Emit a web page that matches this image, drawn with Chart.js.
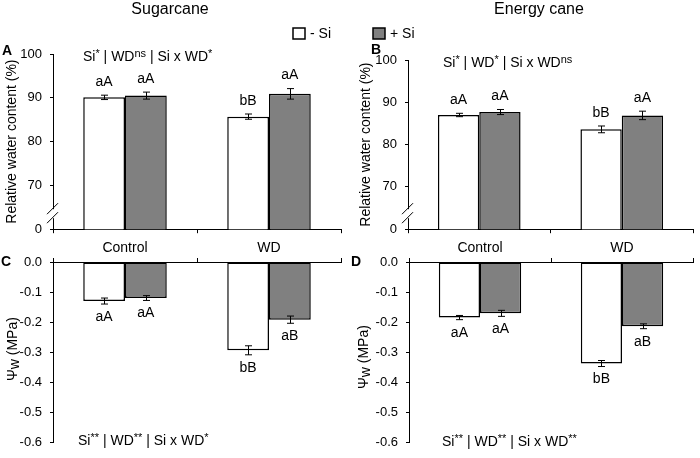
<!DOCTYPE html>
<html>
<head>
<meta charset="utf-8">
<script src="https://cdn.jsdelivr.net/npm/chart.js@4.4.1/dist/chart.umd.min.js"></script>
<style>
html,body{margin:0;padding:0;background:#fff;}
#wrap{position:relative;width:700px;height:458px;overflow:hidden;background:#fff;}
canvas{position:absolute;}
</style>
</head>
<body>
<div id="wrap">
<canvas id="cA" style="left:0;top:0" width="350" height="245"></canvas>
<canvas id="cB" style="left:350px;top:0" width="350" height="245"></canvas>
<canvas id="cC" style="left:0;top:240px" width="350" height="218"></canvas>
<canvas id="cD" style="left:350px;top:240px" width="350" height="218"></canvas>
</div>
<script>
// ---------------- data ----------------
const categories = ['Control', 'WD'];
const seriesNames = ['- Si', '+ Si'];
const panelTitles = ['Sugarcane', 'Energy cane'];

// Relative water content (%)
const rwcSugarMinusSi  = [90.1, 85.7];
const rwcSugarPlusSi   = [90.5, 90.9];
const rwcSugarMinusErr = [0.5, 0.6];
const rwcSugarPlusErr  = [0.8, 1.2];
const rwcEnergyMinusSi  = [87.0, 83.6];
const rwcEnergyPlusSi   = [87.7, 86.9];
const rwcEnergyMinusErr = [0.4, 0.8];
const rwcEnergyPlusErr  = [0.6, 1.0];

// Leaf water potential (MPa)
const psiSugarMinusSi  = [-0.13, -0.294];
const psiSugarPlusSi   = [-0.12, -0.192];
const psiSugarMinusErr = [0.01, 0.015];
const psiSugarPlusErr  = [0.008, 0.012];
const psiEnergyMinusSi  = [-0.185, -0.338];
const psiEnergyPlusSi   = [-0.171, -0.214];
const psiEnergyMinusErr = [0.007, 0.01];
const psiEnergyPlusErr  = [0.01, 0.008];

// mean-separation letters
const lettersRwcSugarMinus  = ['aA', 'bB'];
const lettersRwcSugarPlus   = ['aA', 'aA'];
const lettersRwcEnergyMinus = ['aA', 'bB'];
const lettersRwcEnergyPlus  = ['aA', 'aA'];
const lettersPsiSugarMinus  = ['aA', 'bB'];
const lettersPsiSugarPlus   = ['aA', 'aB'];
const lettersPsiEnergyMinus = ['aA', 'bB'];
const lettersPsiEnergyPlus  = ['aA', 'aB'];

// ANOVA notes: [text, superscript?]
const anovaA = [['Si',0],['*',1],[' | WD',0],['ns',1],[' | Si x WD',0],['*',1]];
const anovaB = [['Si',0],['*',1],[' | WD',0],['*',1],[' | Si x WD',0],['ns',1]];
const anovaC = [['Si',0],['**',1],[' | WD',0],['**',1],[' | Si x WD',0],['*',1]];
const anovaD = [['Si',0],['**',1],[' | WD',0],['**',1],[' | Si x WD',0],['**',1]];

// tick values / labels
const rwcTicks = [60, 70, 80, 90, 100];
const rwcTickLabels = ['0', '70', '80', '90', '100'];
const psiTicks = [0, -0.1, -0.2, -0.3, -0.4, -0.5, -0.6];
const psiTickLabels = ['0.0', '-0.1', '-0.2', '-0.3', '-0.4', '-0.5', '-0.6'];

const rwcTitle = 'Relative water content (%)';
const psiTitle = [['Ψ',0],['w',2],[' (MPa)',0]];

// ---------------- styling ----------------
const FONT = "'Liberation Sans', Arial, Helvetica, sans-serif";
Chart.defaults.font.family = FONT;
Chart.defaults.color = '#000';
const WHITE = '#ffffff';
const GRAY = '#808080';

function font(size, bold) { return (bold ? 'bold ' : '') + size + 'px ' + FONT; }

function supSize(size) { return Math.round(size * 0.75); }

function drawRich(ctx, parts, x, y, size) {
  // y is the vertical middle of the main text
  let cx = x;
  ctx.textAlign = 'left';
  ctx.textBaseline = 'alphabetic';
  const base = y + size * 0.36;
  parts.forEach(([t, s]) => {
    let fs = size, dy = 0;
    if (s === 1) { fs = supSize(size); dy = -size * 0.3; }
    if (s === 2) { fs = size; dy = size * 0.15; }
    ctx.font = font(fs);
    ctx.fillText(t, cx, base + dy);
    cx += ctx.measureText(t).width;
  });
  return cx - x;
}
function richWidth(ctx, parts, size) {
  let w = 0;
  parts.forEach(([t, s]) => {
    ctx.font = font(s === 1 ? supSize(size) : size);
    w += ctx.measureText(t).width;
  });
  return w;
}

const extras = {
  id: 'extras',
  afterDatasetsDraw(chart, args, o) {
    const ctx = chart.ctx, y = chart.scales.y, ca = chart.chartArea;
    ctx.save();
    // error bars and letters
    chart.data.datasets.forEach((ds, di) => {
      const meta = chart.getDatasetMeta(di);
      meta.data.forEach((bar, i) => {
        const v = ds.data[i], e = ds.errors[i];
        const yt = y.getPixelForValue(v + e), yb = y.getPixelForValue(v - e);
        const x = Math.round(bar.x) + 0.5;
        ctx.strokeStyle = '#000'; ctx.lineWidth = 1;
        ctx.beginPath();
        ctx.moveTo(x, yt); ctx.lineTo(x, yb);
        ctx.moveTo(x - 3.5, yt); ctx.lineTo(x + 3.5, yt);
        ctx.moveTo(x - 3.5, yb); ctx.lineTo(x + 3.5, yb);
        ctx.stroke();
        ctx.fillStyle = '#000';
        ctx.font = font(14);
        ctx.textAlign = 'center'; ctx.textBaseline = 'middle';
        const ly = v >= 0 ? yt - 13 : yb + 13;
        ctx.fillText(ds.letters[i], bar.x, ly);
      });
    });
    // ANOVA note
    ctx.fillStyle = '#000';
    drawRich(ctx, o.anova, ca.left + o.anovaDx, o.anovaY, 14);
    // panel letter
    ctx.font = font(14, true); ctx.textAlign = 'left'; ctx.textBaseline = 'middle';
    ctx.fillText(o.panel, o.panelX, o.panelY);
    // title
    if (o.title) {
      ctx.font = font(16); ctx.textAlign = 'center'; ctx.textBaseline = 'alphabetic';
      ctx.fillText(o.title, o.titleX, 14);
    }
    // legend item
    if (o.legend !== undefined) {
      const ds = chart.data.datasets[o.legend];
      ctx.fillStyle = ds.backgroundColor;
      ctx.fillRect(o.legendX, 28, 12, 11);
      ctx.strokeStyle = '#000'; ctx.lineWidth = 1.5;
      ctx.strokeRect(o.legendX, 28, 12, 11);
      ctx.fillStyle = '#000'; ctx.font = font(14); ctx.textAlign = 'left'; ctx.textBaseline = 'middle';
      ctx.fillText(ds.label, o.legendX + 17, 34);
    }
    // axis break
    if (o.brk) {
      const L = Math.round(ca.left), B = ca.bottom;
      ctx.fillStyle = '#fff';
      ctx.fillRect(L - 2, B - 20, 4, 9);
      ctx.strokeStyle = '#000'; ctx.lineWidth = 1;
      ctx.beginPath();
      ctx.moveTo(L - 6, B - 15); ctx.lineTo(L + 5, B - 26);
      ctx.moveTo(L - 6, B - 6); ctx.lineTo(L + 5, B - 17);
      ctx.stroke();
    }
    // rich y title for psi panels
    if (o.yTitle) {
      ctx.save();
      ctx.translate(o.yTitleX, o.yTitleY);
      ctx.rotate(-Math.PI / 2);
      ctx.fillStyle = '#000';
      const w = richWidth(ctx, o.yTitle, 14);
      drawRich(ctx, o.yTitle, -w / 2, 0, 14);
      ctx.restore();
    }
    ctx.restore();
  }
};

function makeDatasets(minus, minusErr, minusLet, plus, plusErr, plusLet) {
  return [
    { label: seriesNames[0], data: minus, errors: minusErr, letters: minusLet,
      backgroundColor: WHITE, borderColor: '#000', borderWidth: 1.5, borderSkipped: false },
    { label: seriesNames[1], data: plus, errors: plusErr, letters: plusLet,
      backgroundColor: GRAY, borderColor: '#000', borderWidth: 1.5, borderSkipped: false }
  ];
}

function topChart(id, datasets, yWidth, padTop, padRight, titleY, extraOpts) {
  return new Chart(document.getElementById(id), {
    type: 'bar',
    data: { labels: categories, datasets },
    options: {
      responsive: false, animation: false,
      layout: { padding: { top: padTop, right: padRight, left: 0, bottom: 0 } },
      categoryPercentage: 0.58, barPercentage: 1.0,
      plugins: { legend: { display: false }, tooltip: { enabled: false }, extras: extraOpts },
      scales: {
        x: {
          position: 'bottom', offset: true,
          grid: { display: true, offset: true, drawOnChartArea: false, drawTicks: true, tickLength: 4, color: '#000' },
          border: { display: true, color: '#000', width: 1 },
          ticks: { display: false },
          afterFit: s => { s.height = 15; }
        },
        y: {
          min: 60, max: 100,
          afterBuildTicks: s => { s.ticks = rwcTicks.map(v => ({ value: v })); },
          ticks: { callback: v => rwcTickLabels[rwcTicks.indexOf(v)], font: { size: 13 }, color: '#000', padding: 8 },
          grid: { display: true, drawOnChartArea: false, drawTicks: true, tickLength: 3, color: '#000' },
          border: { display: true, color: '#000', width: 1 },
          title: { display: true, text: rwcTitle, font: { size: 14 }, color: '#000', padding: { top: titleY, bottom: 0 } },
          afterFit: s => { s.width = yWidth; }
        }
      }
    },
    plugins: [extras]
  });
}

function bottomChart(id, datasets, yWidth, padRight, extraOpts) {
  return new Chart(document.getElementById(id), {
    type: 'bar',
    data: { labels: categories, datasets },
    options: {
      responsive: false, animation: false,
      layout: { padding: { top: 0, right: padRight, left: 0, bottom: 7 } },
      categoryPercentage: 0.58, barPercentage: 1.0,
      plugins: { legend: { display: false }, tooltip: { enabled: false }, extras: extraOpts },
      scales: {
        x: {
          position: 'top', offset: true,
          grid: { display: true, offset: true, drawOnChartArea: false, drawTicks: true, tickLength: 4, color: '#000' },
          border: { display: true, color: '#000', width: 1 },
          ticks: { display: true, font: { size: 14 }, color: '#000', padding: 1 },
          afterFit: s => { s.height = 22; }
        },
        y: {
          min: -0.6, max: 0,
          afterBuildTicks: s => { s.ticks = psiTicks.map(v => ({ value: v })); },
          ticks: { callback: v => psiTickLabels[psiTicks.indexOf(v)], font: { size: 13 }, color: '#000', padding: 8 },
          grid: { display: true, drawOnChartArea: false, drawTicks: true, tickLength: 3, color: '#000' },
          border: { display: true, color: '#000', width: 1 },
          title: { display: false },
          afterFit: s => { s.width = yWidth; }
        }
      }
    },
    plugins: [extras]
  });
}

topChart('cA',
  makeDatasets(rwcSugarMinusSi, rwcSugarMinusErr, lettersRwcSugarMinus, rwcSugarPlusSi, rwcSugarPlusErr, lettersRwcSugarPlus),
  53, 54, 9, 4,
  { anova: anovaA, anovaDx: 30, anovaY: 56, panel: 'A', panelX: 2, panelY: 51,
    title: panelTitles[0], titleX: 170, legend: 0, legendX: 293, brk: true });

topChart('cB',
  makeDatasets(rwcEnergyMinusSi, rwcEnergyMinusErr, lettersRwcEnergyMinus, rwcEnergyPlusSi, rwcEnergyPlusErr, lettersRwcEnergyPlus),
  58, 60, 7, 8,
  { anova: anovaB, anovaDx: 35, anovaY: 62, panel: 'B', panelX: 21, panelY: 50,
    title: panelTitles[1], titleX: 189, legend: 1, legendX: 23, brk: true });

bottomChart('cC',
  makeDatasets(psiSugarMinusSi, psiSugarMinusErr, lettersPsiSugarMinus, psiSugarPlusSi, psiSugarPlusErr, lettersPsiSugarPlus),
  53, 9,
  { anova: anovaC, anovaDx: 25, anovaY: 200, panel: 'C', panelX: 1, panelY: 22,
    yTitle: psiTitle, yTitleX: 12, yTitleY: 109 });

bottomChart('cD',
  makeDatasets(psiEnergyMinusSi, psiEnergyMinusErr, lettersPsiEnergyMinus, psiEnergyPlusSi, psiEnergyPlusErr, lettersPsiEnergyPlus),
  59, 7,
  { anova: anovaD, anovaDx: 33, anovaY: 201, panel: 'D', panelX: 1, panelY: 22,
    yTitle: psiTitle, yTitleX: 13, yTitleY: 117 });
</script>
</body>
</html>
